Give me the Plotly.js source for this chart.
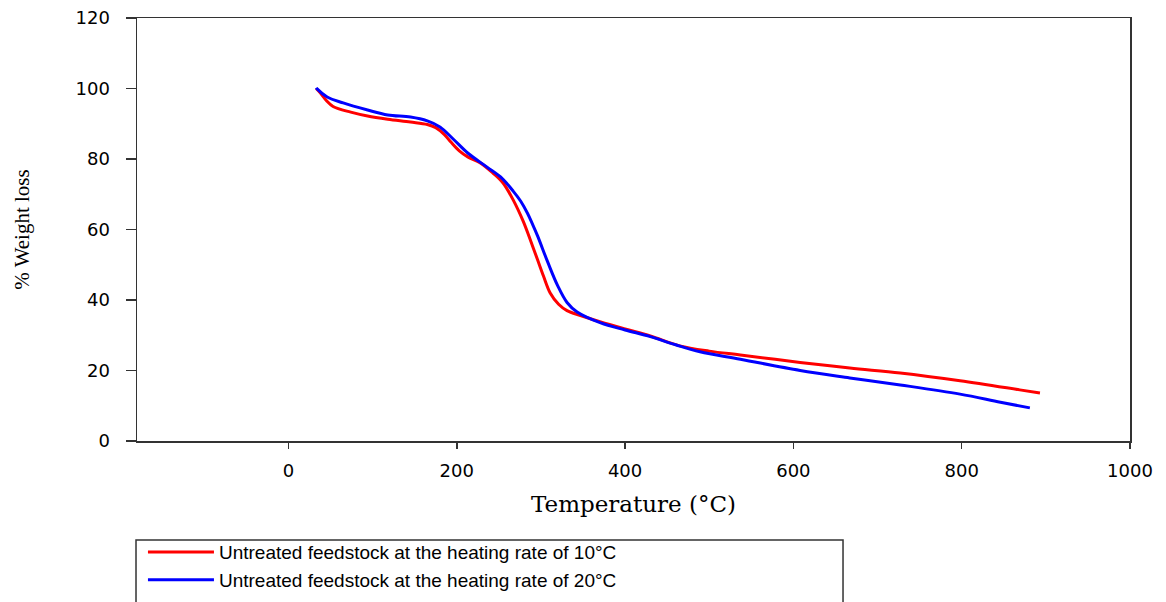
<!DOCTYPE html>
<html>
<head>
<meta charset="utf-8">
<script src="https://cdn.plot.ly/plotly-3.0.1.min.js"></script>
<style>
html,body{margin:0;padding:0;background:#fff;overflow:hidden;}
#chart{width:1166px;height:640px;}
</style>
</head>
<body>
<div id="chart"></div>
<script>
// Heating rate 10°C (red)
var temp10 = [33,38,45,53,74,94,118,145,165,175,185,193,203,213,228,243,255,267,279,287,296,303,311,321,331,347,371,400,430,465,500,537,608,667,727,798,869,893];
var wt10   = [100.0,98.7,96.6,94.9,93.3,92.2,91.3,90.5,89.8,88.9,87.0,84.8,82.3,80.6,78.9,76.0,73.2,68.4,62.3,57.3,51.4,46.8,42.0,38.8,37.0,35.6,33.8,31.8,29.8,27.0,25.5,24.4,22.3,20.7,19.3,17.1,14.5,13.6];
// Heating rate 20°C (blue)
var temp20 = [33,34,46,65,94,118,145,165,180,196,213,236,252,267,276,284,290,296,308,320,331,343,371,400,430,460,489,537,608,667,727,798,846,881];
var wt20   = [100.2,99.9,97.6,95.9,93.9,92.5,91.9,90.8,89.1,85.6,81.7,77.7,74.9,70.9,68.0,64.6,61.5,58.2,50.8,44.0,39.3,36.6,33.5,31.5,29.6,27.3,25.3,23.2,20.0,17.9,15.9,13.3,11.0,9.4];

var seriesNames = ["Untreated feedstock at the heating rate of 10°C",
                   "Untreated feedstock at the heating rate of 20°C"];
var xTicks = [0,200,400,600,800,1000];
var yTicks = [0,20,40,60,80,100,120];

var traces = [
  {x: temp10, y: wt10, name: seriesNames[0], type: 'scatter', mode: 'lines',
   line: {color: '#ff0000', width: 3, shape: 'spline', smoothing: 1}},
  {x: temp20, y: wt20, name: seriesNames[1], type: 'scatter', mode: 'lines',
   line: {color: '#0000ff', width: 3, shape: 'spline', smoothing: 1}}
];

var layout = {
  width: 1166, height: 640,
  margin: {l: 137, r: 36, t: 18, b: 199},
  paper_bgcolor: '#fff', plot_bgcolor: '#fff',
  showlegend: true,
  xaxis: {
    range: [-180, 1000], tickvals: xTicks, ticktext: xTicks.map(String),
    ticks: 'outside', ticklen: 6, tickwidth: 1.5, tickcolor: '#333',
    ticklabelstandoff: 7,
    showline: true, linecolor: '#333', linewidth: 1.5, mirror: true,
    showgrid: false, zeroline: false,
    tickfont: {family: 'DejaVu Sans', size: 18, color: '#000'},
    title: {text: 'Temperature (°C)', standoff: 16,
            font: {family: 'DejaVu Serif', size: 23, color: '#000'}},
    automargin: false
  },
  yaxis: {
    range: [0, 120], tickvals: yTicks, ticktext: yTicks.map(String),
    ticks: 'outside', ticklen: 10, tickwidth: 1.5, tickcolor: '#333',
    ticklabelstandoff: 12,
    showline: true, linecolor: '#333', linewidth: 1.5, mirror: true,
    showgrid: false, zeroline: false,
    tickfont: {family: 'DejaVu Sans', size: 18, color: '#000'},
    title: {text: '% Weight loss', standoff: 40,
            font: {family: 'Liberation Serif', size: 21, color: '#000'}},
    automargin: false
  },
  legend: {
    x: 0.006, y: -0.374, xanchor: 'left', yanchor: 'bottom',
    bgcolor: 'rgba(0,0,0,0)', borderwidth: 0,
    itemwidth: 66,
    font: {family: 'Liberation Sans', size: 19, color: '#000'}
  },
  shapes: [
    {type: 'rect', xref: 'paper', yref: 'paper',
     x0: -0.001, x1: 0.711, y0: -0.234, y1: -0.45,
     line: {color: '#333', width: 1.5}, fillcolor: 'rgba(0,0,0,0)'}
  ]
};

Plotly.newPlot('chart', traces, layout, {displayModeBar: false, staticPlot: true});
</script>
</body>
</html>
